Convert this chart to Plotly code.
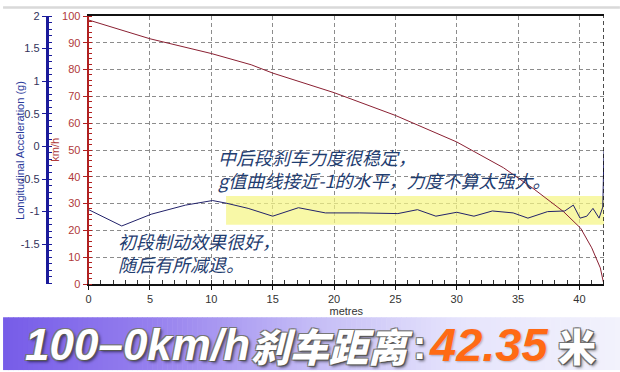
import plotly.graph_objects as go

# ---------------- data ----------------
speed_x = [0, 5, 10, 13.25, 15, 20, 25, 28.4, 30, 33.8, 36.3, 38.7, 40.1, 41, 41.7, 41.95]
speed_kmh = [98.5, 91.5, 86, 81.8, 78.7, 71.4, 62.9, 56.2, 53, 43.4, 35.4, 27, 20.8, 13.5, 6, 0.7]

accel_x = [0, 2.7, 5.1, 7.9, 10.1, 11.2, 13.0, 15.0, 17.1, 19.3, 22.1, 25.2, 26.8, 28.3,
           30.0, 31.4, 32.9, 34.6, 35.8, 37.4, 38.8, 39.5, 40.05, 40.6, 41.1, 41.6, 41.9, 42.0]
accel_g = [-0.97, -1.22, -1.04, -0.90, -0.83, -0.87, -0.95, -1.07, -0.94, -1.02, -1.02, -1.03,
           -0.97, -1.07, -1.01, -1.07, -0.99, -1.02, -1.10, -1.00, -0.99, -0.90, -1.10, -1.07,
           -0.95, -1.10, -0.93, -0.07]

x_ticks = [0, 5, 10, 15, 20, 25, 30, 35, 40]
kmh_ticks = [0, 10, 20, 30, 40, 50, 60, 70, 80, 90, 100]
g_ticks = [-1.5, -1, -0.5, 0, 0.5, 1, 1.5, 2]
g_tick_labels = ["-1.5", "-1", "-0.5", "0", "0.5", "1", "1.5", "2"]

highlight_x = [11.2, 42.0]       # metres
highlight_kmh = [22.1, 32.8]     # on km/h scale

note_mid = "中后段刹车力度很稳定，<br>g值曲线接近-1的水平，力度不算太强大。"
note_start = "初段制动效果很好，<br>随后有所减退。"
banner_parts = ["100–0km/h", "刹车距离", ":", "42.35", "米"]
title_x = "metres"
title_kmh = "km/h"
title_g = "Longitudinal Acceleration (g)"

# ---------------- layout geometry ----------------
W, H = 620, 372
ML, MR, MT, MB = 10, 16, 10, 88
PW = W - ML - MR
PH = H - MT - MB


def px_x(p):
    return (p - ML) / PW


def px_y(p):
    return (H - MB - p) / PH


fig = go.Figure()

fig.add_trace(go.Scatter(x=speed_x, y=speed_kmh, mode="lines", yaxis="y",
                         line=dict(color="#8a2032", width=1), showlegend=False,
                         hoverinfo="skip"))
fig.add_trace(go.Scatter(x=accel_x, y=accel_g, mode="lines", yaxis="y2",
                         line=dict(color="#22226a", width=1), showlegend=False,
                         hoverinfo="skip"))

shapes = []
# highlight band
shapes.append(dict(type="rect", xref="x", yref="y", x0=highlight_x[0], x1=highlight_x[1],
                   y0=highlight_kmh[0], y1=highlight_kmh[1], fillcolor="rgba(245,245,130,0.7)",
                   line=dict(width=0), layer="between"))
# cursor dashed line at right edge
shapes.append(dict(type="line", xref="x", yref="paper", x0=42, x1=42, y0=0, y1=1,
                   line=dict(color="#111111", width=1.5, dash="4px,3px")))
# top thin grey strip
shapes.append(dict(type="rect", xref="paper", yref="paper", x0=px_x(0), x1=px_x(W),
                   y0=px_y(2.5), y1=px_y(0), fillcolor="#d9d9d9", line=dict(width=0)))

# banner gradient
stops = [(0, (118, 92, 232)), (150, (150, 128, 238)), (310, (196, 188, 246)),
         (460, (230, 228, 252)), (620, (242, 242, 252))]


def col_at(p):
    for (a, ca), (b, cb) in zip(stops[:-1], stops[1:]):
        if a <= p <= b:
            t = (p - a) / (b - a)
            return "rgb(%d,%d,%d)" % tuple(round(ca[i] + (cb[i] - ca[i]) * t) for i in range(3))
    return "rgb(%d,%d,%d)" % stops[-1][1]


step = 5
for p in range(0, W, step):
    shapes.append(dict(type="rect", xref="paper", yref="paper", x0=px_x(p), x1=px_x(p + step + 0.6),
                       y0=px_y(H), y1=px_y(318), fillcolor=col_at(p + step / 2),
                       line=dict(width=0), layer="above"))

ann = []
txt_col = "#1f3d70"
ann.append(dict(text=note_mid, xref="x", yref="y", x=10.4, y=43.2, xanchor="left",
                yanchor="middle", align="left", showarrow=False,
                font=dict(family="Noto Sans CJK SC", size=18, color=txt_col, style="italic")))
ann.append(dict(text=note_start, xref="x", yref="y", x=2.2, y=11.6, xanchor="left",
                yanchor="middle", align="left", showarrow=False,
                font=dict(family="Noto Sans CJK SC", size=18, color=txt_col, style="italic")))

# axis titles as annotations at fixed pixel positions
ann.append(dict(text=title_g, xref="paper", yref="paper", x=px_x(17), y=px_y(147),
                xanchor="center", yanchor="middle", textangle=-90, showarrow=False,
                font=dict(family="Liberation Sans", size=11, color="#2a3a9a")))
ann.append(dict(text=title_kmh, xref="paper", yref="paper", x=px_x(52), y=px_y(147),
                xanchor="center", yanchor="middle", textangle=-90, showarrow=False,
                font=dict(family="Liberation Sans", size=11, color="#b03a3a")))

outline = ("1px 1px 0 #555, -1px -1px 0 #777, 1px -1px 0 #777, -1px 1px 0 #777, "
           "2px 2px 3px rgba(0,0,0,0.55)")
by = px_y(346)
ann.append(dict(text=banner_parts[0], xref="paper", yref="paper", x=px_x(20), y=by,
                xanchor="left", yanchor="middle", showarrow=False,
                font=dict(family="Liberation Sans", size=44, color="white", weight="bold",
                          style="italic", shadow=outline)))
ann.append(dict(text=banner_parts[1], xref="paper", yref="paper", x=px_x(247), y=by,
                xanchor="left", yanchor="middle", showarrow=False,
                font=dict(family="Noto Sans CJK SC", size=39, color="white", weight=900,
                          style="italic", shadow=outline)))
ann.append(dict(text=banner_parts[2], xref="paper", yref="paper", x=px_x(410), y=by,
                xanchor="left", yanchor="middle", showarrow=False,
                font=dict(family="Liberation Sans", size=40, color="white", weight="bold",
                          shadow=outline)))
ann.append(dict(text=banner_parts[3], xref="paper", yref="paper", x=px_x(426), y=by,
                xanchor="left", yanchor="middle", showarrow=False,
                font=dict(family="Liberation Sans", size=47, color="#ff6a14", weight="bold",
                          style="italic", shadow="1px 1px 2px rgba(0,0,0,0.25)")))
ann.append(dict(text=banner_parts[4], xref="paper", yref="paper", x=px_x(556), y=by,
                xanchor="left", yanchor="middle", showarrow=False,
                font=dict(family="Noto Sans CJK SC", size=38, color="white", weight=900,
                          shadow=outline)))

grid_dash = "4px,3px"
fig.update_layout(
    width=W, height=H, margin=dict(l=ML, r=MR, t=MT, b=MB),
    paper_bgcolor="white", plot_bgcolor="white",
    font=dict(family="Liberation Sans", size=11, color="#333"),
    shapes=shapes, annotations=ann, showlegend=False,
    xaxis=dict(domain=[px_x(86), 1], range=[0, 42], tickvals=x_ticks,
               showline=True, linecolor="#111", linewidth=2, mirror=True,
               ticks="outside", ticklen=4, tickcolor="#111",
               minor=dict(dtick=1, tick0=0, ticks="inside", ticklen=4, tickcolor="#333",
                          showgrid=False),
               showgrid=True, gridcolor="#8c8c8c", gridwidth=1, griddash=grid_dash,
               zeroline=False, tickfont=dict(size=11, color="#333"),
               title=dict(text=title_x, font=dict(size=11, color="#333"), standoff=2)),
    yaxis=dict(range=[0, 100], tickvals=kmh_ticks, anchor="x", side="left",
               showline=True, linecolor="#b02020", linewidth=2,
               ticks="outside", ticklen=4, tickcolor="#b02020",
               minor=dict(dtick=2, tick0=0, ticks="inside", ticklen=3, tickcolor="#b02020",
                          showgrid=False),
               showgrid=True, gridcolor="#8c8c8c", gridwidth=1, griddash=grid_dash,
               zeroline=False, tickfont=dict(size=11, color="#b03a3a")),
    yaxis2=dict(range=[-2.11, 2], tickvals=g_ticks, ticktext=g_tick_labels,
                overlaying="y", anchor="free", position=px_x(44), side="left",
                showline=True, linecolor="#1a1a9a", linewidth=3,
                ticks="outside", ticklen=4, tickcolor="#1a1a9a",
                minor=dict(dtick=0.1, tick0=0, ticks="inside", ticklen=3, tickcolor="#1a1a9a",
                           showgrid=False),
                showgrid=False, zeroline=False, tickfont=dict(size=11, color="#33335a")),
)

fig.write_html("out.html")
